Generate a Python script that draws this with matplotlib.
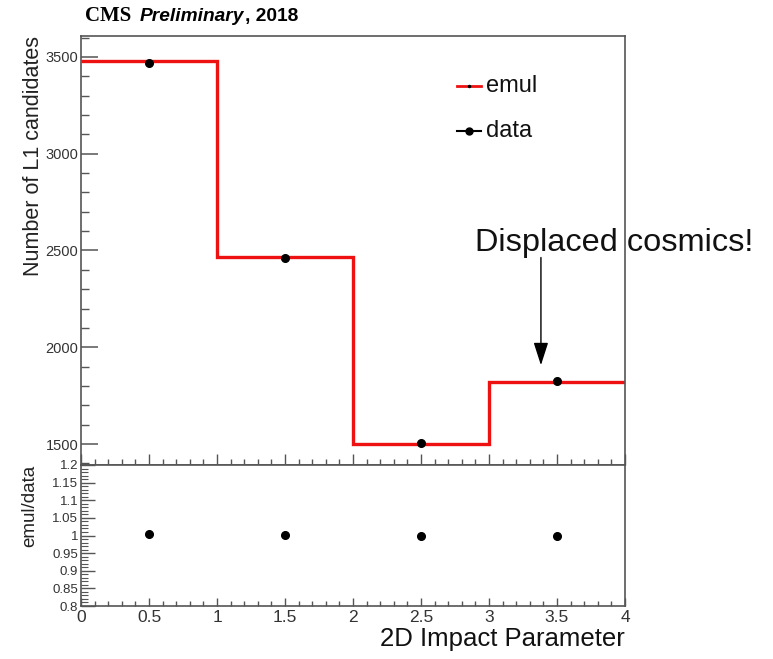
import numpy as np
import matplotlib
matplotlib.use("Agg")
import matplotlib.pyplot as plt
import matplotlib.ticker as mticker

# L1 candidates per 2D impact parameter bin
bin_edges = [0, 1, 2, 3, 4]
bin_centers = [0.5, 1.5, 2.5, 3.5]
emul = [3480, 2468, 1503, 1823]
data = [3470, 2463, 1505, 1828]

ratio = np.array(emul) / np.array(data)

FRAME = "#555555"
plt.rcParams["font.family"] = ["Liberation Sans", "DejaVu Sans"]

fig = plt.figure(figsize=(7.73, 6.59), dpi=100)
ax = fig.add_axes([0.1048, 0.2944, 0.7037, 0.651])
rax = fig.add_axes([0.1048, 0.0804, 0.7037, 0.2140], sharex=ax)

# top panel: emulator histogram + data points
ax.stairs(emul, bin_edges, baseline=None, color="#ee1111", linewidth=2.4,
          zorder=2)
ax.plot(bin_centers, data, "o", color="black", markersize=5.5, zorder=3)
ax.set_xlim(0, 4)
ax.set_ylim(1392, 3608)

ax.yaxis.set_major_locator(mticker.MultipleLocator(500))
ax.yaxis.set_minor_locator(mticker.MultipleLocator(100))
ax.xaxis.set_major_locator(mticker.MultipleLocator(0.5))
ax.xaxis.set_minor_locator(mticker.MultipleLocator(0.1))
ax.tick_params(axis="both", which="both", direction="in", color=FRAME,
               labelcolor="#333333", labelsize=10.5)
ax.tick_params(axis="y", which="major", length=12, width=1.1, pad=2)
ax.tick_params(axis="y", which="minor", length=6, width=1.0)
ax.tick_params(axis="x", which="major", length=8, width=1.0)
ax.tick_params(axis="x", which="minor", length=4, width=1.0)
ax.tick_params(axis="x", labelbottom=False)
for s in ax.spines.values():
    s.set_color(FRAME)
    s.set_linewidth(1.2)

ax.set_ylabel("Number of L1 candidates", fontsize=15.5, color="#222222",
              loc="top", labelpad=1)

# legend drawn by hand, ROOT-style entries
lx0, lx1 = 0.691, 0.735
ax.plot([lx0, lx1], [0.884, 0.884], transform=ax.transAxes,
        color="#ee1111", linewidth=2)
ax.plot([(lx0 + lx1) / 2], [0.884], transform=ax.transAxes,
        marker="o", color="black", markersize=1.5)
ax.text(0.745, 0.884, "emul", transform=ax.transAxes, fontsize=17,
        va="center", ha="left", color="#111111")
ax.plot([lx0, lx1], [0.778, 0.778], transform=ax.transAxes,
        color="black", linewidth=1.5)
ax.plot([(lx0 + lx1) / 2], [0.778], transform=ax.transAxes,
        marker="o", color="black", markersize=5)
ax.text(0.745, 0.778, "data", transform=ax.transAxes, fontsize=17,
        va="center", ha="left", color="#111111")

# annotation for the last bin
ax.annotate("", xy=(3.382, 1893), xytext=(3.382, 2478),
            arrowprops=dict(arrowstyle="-|>,head_length=1.4,head_width=0.45",
                            color="black", linewidth=1.0))
ax.text(3.919, 2495, "Displaced cosmics!", fontsize=23.4, ha="center",
        va="baseline", color="#111111", clip_on=False, zorder=1)

# title
fig.text(0.110, 0.975, "CMS", fontsize=15, fontweight="bold",
         family=["Liberation Serif", "DejaVu Serif"], va="center", ha="left")
fig.text(0.181, 0.975, "Preliminary", fontsize=13.8, fontweight="bold",
         style="italic", va="center", ha="left")
fig.text(0.317, 0.975, ", 2018", fontsize=13.8, fontweight="bold",
         va="center", ha="left")

# ratio panel
rax.plot(bin_centers, ratio, "o", color="black", markersize=5.5)
rax.set_ylim(0.8, 1.2)
rax.yaxis.set_major_locator(mticker.MultipleLocator(0.05))
rax.yaxis.set_minor_locator(mticker.MultipleLocator(0.01))
rax.yaxis.set_major_formatter(mticker.FuncFormatter(lambda v, p: f"{v:g}"))
rax.tick_params(axis="both", which="both", direction="in", color=FRAME,
                labelcolor="#333333")
rax.tick_params(axis="y", which="major", length=10, width=1.0,
                labelsize=9.5, pad=2)
rax.tick_params(axis="y", which="minor", length=5, width=0.8)
rax.tick_params(axis="x", which="major", length=6, width=1.0,
                labelsize=12.5, pad=3)
rax.tick_params(axis="x", which="minor", length=3.5, width=1.0)
rax.xaxis.set_major_formatter(mticker.FuncFormatter(lambda v, p: f"{v:g}"))
for s in rax.spines.values():
    s.set_color(FRAME)
    s.set_linewidth(1.2)
rax.set_ylabel("emul/data", fontsize=13.5, color="#222222", loc="top",
               labelpad=10)
rax.set_xlabel("2D Impact Parameter", fontsize=18.5, color="#111111",
               loc="right", labelpad=1)

fig.savefig("out.png", dpi=100)
